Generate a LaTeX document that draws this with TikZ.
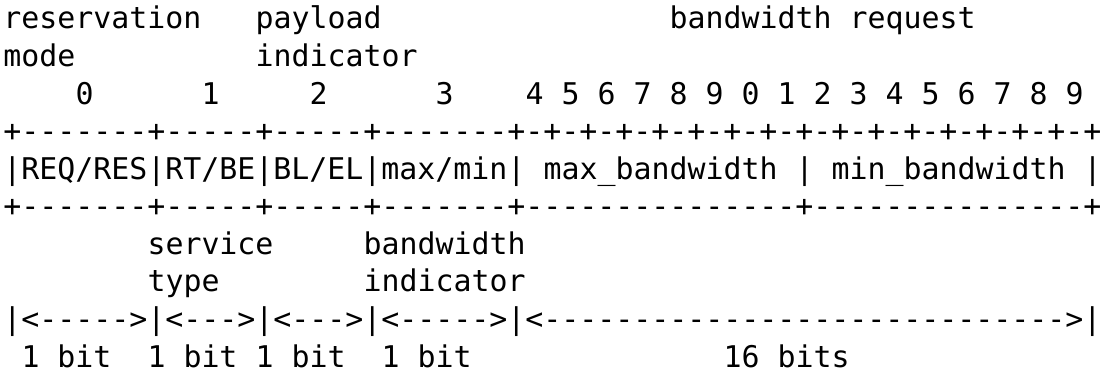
\documentclass[tikz,border=0pt]{standalone}
\usepackage{fontspec}
\newfontfamily\monofont{DejaVu Sans Mono}[Ligatures=TeXOff]
\usepackage{tikz}

\tikzset{
    ascii/.style={anchor=base west, inner sep=0pt, outer sep=0pt,
        font=\monofont\fontsize{14.95pt}{18pt}\selectfont}
}

\begin{document}
\begin{tikzpicture}
    \useasboundingbox (0,0) rectangle (551.5pt,-186.5pt);
    \begin{scope}[shift={(1.75pt,-14.5pt)}, x=9pt, y=-18.78pt]
    % field names above the header
    \node [ascii](resv) at (0,0) {reservation};
    \node [ascii](pay) at (14,0) {payload};
    \node [ascii](bwreq) at (37,0) {bandwidth request};
    \node [ascii](mode) at (0,1) {mode};
    \node [ascii](payind) at (14,1) {indicator};

    % bit numbers
    \node [ascii](b0) at (4,2) {0};
    \node [ascii](b1) at (11,2) {1};
    \node [ascii](b2) at (17,2) {2};
    \node [ascii](b3) at (24,2) {3};
    \foreach \d [count=\i from 0] in {4,5,6,7,8,9,0,1,2,3,4,5,6,7,8,9}
        \node [ascii](bw\i) at ({29+2*\i},2) {\d};

    % the header itself
    \node [ascii](top) at (0,3) {+-------+-----+-----+-------+-+-+-+-+-+-+-+-+-+-+-+-+-+-+-+-+};
    \node [ascii](fields) at (0,4) {|REQ/RES|RT/BE|BL/EL|max/min|};
    \node [ascii](maxbw) at (30,4) {max\_bandwidth};
    \node [ascii](sep) at (44,4) {|};
    \node [ascii](minbw) at (46,4) {min\_bandwidth};
    \node [ascii](end) at (60,4) {|};
    \node [ascii](bottom) at (0,5) {+-------+-----+-----+-------+---------------+---------------+};

    % names below
    \node [ascii](serv) at (8,6) {service};
    \node [ascii](bwind) at (20,6) {bandwidth};
    \node [ascii](type) at (8,7) {type};
    \node [ascii](ind) at (20,7) {indicator};

    % widths
    \node [ascii](span) at (0,8) {|<----->|<--->|<--->|<----->|<----------------------------->|};
    \node [ascii](w0) at (1,9) {1 bit};
    \node [ascii](w1) at (8,9) {1 bit};
    \node [ascii](w2) at (14,9) {1 bit};
    \node [ascii](w3) at (21,9) {1 bit};
    \node [ascii](w4) at (40,9) {16 bits};
    \end{scope}
\end{tikzpicture}
\end{document}
